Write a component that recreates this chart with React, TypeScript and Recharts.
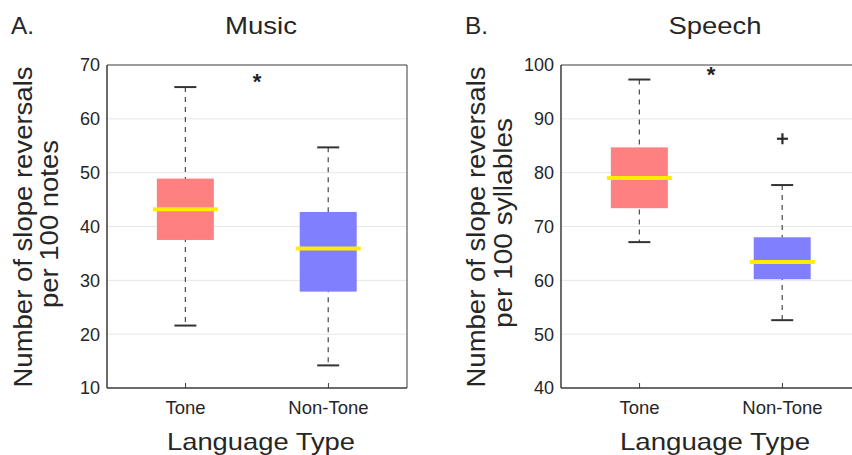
import { ComposedChart, Bar, Scatter, XAxis, YAxis, CartesianGrid, Cell, ReferenceArea } from 'recharts'

// ── data ─────────────────────────────────────────────────────────
const categories = ['Tone', 'Non-Tone']

const musicMin = [21.6, 14.2]
const musicQ1 = [37.5, 27.9]
const musicMedian = [43.2, 35.9]
const musicQ3 = [48.9, 42.7]
const musicMax = [65.9, 54.7]
const musicSig = [{ x: 1.5, y: 67.6 }]
const musicTicks = [10, 20, 30, 40, 50, 60, 70]

const speechMin = [67.1, 52.6]
const speechQ1 = [73.4, 60.2]
const speechMedian = [79.0, 63.4]
const speechQ3 = [84.7, 68.0]
const speechMax = [97.3, 77.7]
const speechOutliers = [{ x: 2, y: 86.3 }]
const speechSig = [{ x: 1.5, y: 98.8 }]
const speechTicks = [40, 50, 60, 70, 80, 90, 100]

// ── styles ───────────────────────────────────────────────────────
const FONT = '"Liberation Sans", Arial, Helvetica, sans-serif'
const INK = '#262626'
const AXIS = '#3a3a3a'
const BOX_COLORS = ['#ff8080', '#8080ff']
const MEDIAN = '#ffee00'
const X_DOMAIN: [number, number] = [0.45, 2.55]

interface Row {
  x: number
  range: [number, number]
  q1: number
  median: number
  q3: number
}

function buildRows(mn: number[], q1: number[], md: number[], q3: number[], mx: number[]): Row[] {
  return categories.map((_, i) => ({
    x: i + 1,
    range: [mn[i], mx[i]],
    q1: q1[i],
    median: md[i],
    q3: q3[i],
  }))
}

const musicRows = buildRows(musicMin, musicQ1, musicMedian, musicQ3, musicMax)
const speechRows = buildRows(speechMin, speechQ1, speechMedian, speechQ3, speechMax)

// box + whiskers drawn from the pixel extent of the [min, max] range bar
function BoxShape(props: any) {
  const { x, y, width, height, payload, fill } = props
  const top = Math.min(y, y + height)
  const bottom = Math.max(y, y + height)
  const lo = Math.min(...payload.range)
  const hi = Math.max(...payload.range)
  const py = (v: number) => top + ((hi - v) / (hi - lo)) * (bottom - top)
  const cx = x + width / 2
  return (
    <g>
      <line x1={cx} x2={cx} y1={py(hi)} y2={py(lo)} stroke="#4a4a4a" strokeWidth={1.2} strokeDasharray="5 5" />
      <line x1={cx - 11} x2={cx + 11} y1={py(hi)} y2={py(hi)} stroke="#333" strokeWidth={2} />
      <line x1={cx - 11} x2={cx + 11} y1={py(lo)} y2={py(lo)} stroke="#333" strokeWidth={2} />
      <rect x={cx - 28.5} y={py(payload.q3)} width={57} height={py(payload.q1) - py(payload.q3)} fill={fill} />
      <line x1={cx - 32.5} x2={cx + 32.5} y1={py(payload.median)} y2={py(payload.median)} stroke={MEDIAN} strokeWidth={4} />
    </g>
  )
}

function PlusShape(props: any) {
  const { cx, cy } = props
  return (
    <g stroke="#2a2a2a" strokeWidth={2.2}>
      <line x1={cx - 5.5} x2={cx + 5.5} y1={cy} y2={cy} />
      <line x1={cx} x2={cx} y1={cy - 5.5} y2={cy + 5.5} />
    </g>
  )
}

function StarShape(props: any) {
  const { cx, cy } = props
  return (
    <text x={cx} y={cy + 11} textAnchor="middle" fontSize={22} fontWeight="bold" fill="#222" fontFamily={FONT}>
      *
    </text>
  )
}

function XTick(props: any) {
  const { x, y, payload } = props
  return (
    <g>
      <line x1={x} x2={x} y1={y} y2={y - 5} stroke={AXIS} />
      <text x={x} y={y + 26} textAnchor="middle" fontSize={18.5} fill={INK} fontFamily={FONT}>
        {categories[payload.value - 1]}
      </text>
    </g>
  )
}

interface PanelProps {
  rows: Row[]
  domain: [number, number]
  ticks: number[]
  sig: { x: number; y: number }[]
  outliers?: { x: number; y: number }[]
  width: number
  marginLeft: number
  marginRight: number
}

function Panel({ rows, domain, ticks, sig, outliers, width, marginLeft, marginRight }: PanelProps) {
  return (
    <ComposedChart
      width={width}
      height={455}
      data={rows}
      margin={{ top: 65, right: marginRight, bottom: 37, left: marginLeft }}
    >
      <CartesianGrid vertical={false} stroke="#e6e6e6" horizontalValues={ticks.slice(1, -1)} />
      <XAxis
        dataKey="x"
        type="number"
        domain={X_DOMAIN}
        ticks={[1, 2]}
        allowDataOverflow
        height={30}
        tickSize={0}
        tickMargin={0}
        tick={<XTick />}
        axisLine={{ stroke: AXIS }}
      />
      <YAxis
        type="number"
        domain={domain}
        ticks={ticks}
        allowDataOverflow
        width={60}
        tickSize={0}
        tickMargin={7}
        tickLine={false}
        axisLine={{ stroke: AXIS }}
        tick={{ fill: INK, fontSize: 18, fontFamily: FONT }}
      />
      {/* plot frame */}
      <ReferenceArea
        x1={X_DOMAIN[0]}
        x2={X_DOMAIN[1]}
        y1={domain[0]}
        y2={domain[1]}
        fill="none"
        fillOpacity={0}
        stroke={AXIS}
        strokeWidth={1}
        ifOverflow="visible"
      />
      <Bar dataKey="range" barSize={57} shape={<BoxShape />} isAnimationActive={false}>
        {rows.map((r, i) => (
          <Cell key={r.x} fill={BOX_COLORS[i]} />
        ))}
      </Bar>
      {outliers && <Scatter data={outliers} dataKey="y" shape={<PlusShape />} isAnimationActive={false} />}
      <Scatter data={sig} dataKey="y" shape={<StarShape />} isAnimationActive={false} />
    </ComposedChart>
  )
}

function Labels() {
  const t = { fontFamily: FONT, fill: INK }
  return (
    <svg width={852} height={455} style={{ position: 'absolute', left: 0, top: 0, pointerEvents: 'none' }}>
      <text x={11} y={34} fontSize={24} textLength={23} lengthAdjust="spacingAndGlyphs" {...t}>A.</text>
      <text x={261} y={34} fontSize={24} textAnchor="middle" textLength={72} lengthAdjust="spacingAndGlyphs" {...t}>Music</text>
      <text x={465} y={34} fontSize={24} textLength={23} lengthAdjust="spacingAndGlyphs" {...t}>B.</text>
      <text x={715} y={34} fontSize={24} textAnchor="middle" textLength={93} lengthAdjust="spacingAndGlyphs" {...t}>Speech</text>

      <text x={261} y={450} fontSize={24} textAnchor="middle" textLength={188} lengthAdjust="spacingAndGlyphs" {...t}>Language Type</text>
      <text x={715} y={450} fontSize={24} textAnchor="middle" textLength={190} lengthAdjust="spacingAndGlyphs" {...t}>Language Type</text>

      <text x={32} y={227} fontSize={25} textAnchor="middle" transform="rotate(-90 32 227)" textLength={321} lengthAdjust="spacingAndGlyphs" {...t}>Number of slope reversals</text>
      <text x={58} y={224} fontSize={25} textAnchor="middle" transform="rotate(-90 58 224)" textLength={168} lengthAdjust="spacingAndGlyphs" {...t}>per 100 notes</text>
      <text x={485} y={227} fontSize={25} textAnchor="middle" transform="rotate(-90 485 227)" textLength={321} lengthAdjust="spacingAndGlyphs" {...t}>Number of slope reversals</text>
      <text x={512} y={223} fontSize={25} textAnchor="middle" transform="rotate(-90 512 223)" textLength={210} lengthAdjust="spacingAndGlyphs" {...t}>per 100 syllables</text>
    </svg>
  )
}

export default function App() {
  return (
    <div style={{ position: 'absolute', left: 0, top: 0, width: 852, height: 455, overflow: 'hidden', background: '#fff' }}>
      <div style={{ position: 'absolute', left: 0, top: 0 }}>
        <Panel rows={musicRows} domain={[10, 70]} ticks={musicTicks} sig={musicSig} width={430} marginLeft={47} marginRight={23} />
      </div>
      <div style={{ position: 'absolute', left: 430, top: 0 }}>
        <Panel rows={speechRows} domain={[40, 100]} ticks={speechTicks} sig={speechSig} outliers={speechOutliers} width={460} marginLeft={71} marginRight={29} />
      </div>
      <Labels />
    </div>
  )
}
